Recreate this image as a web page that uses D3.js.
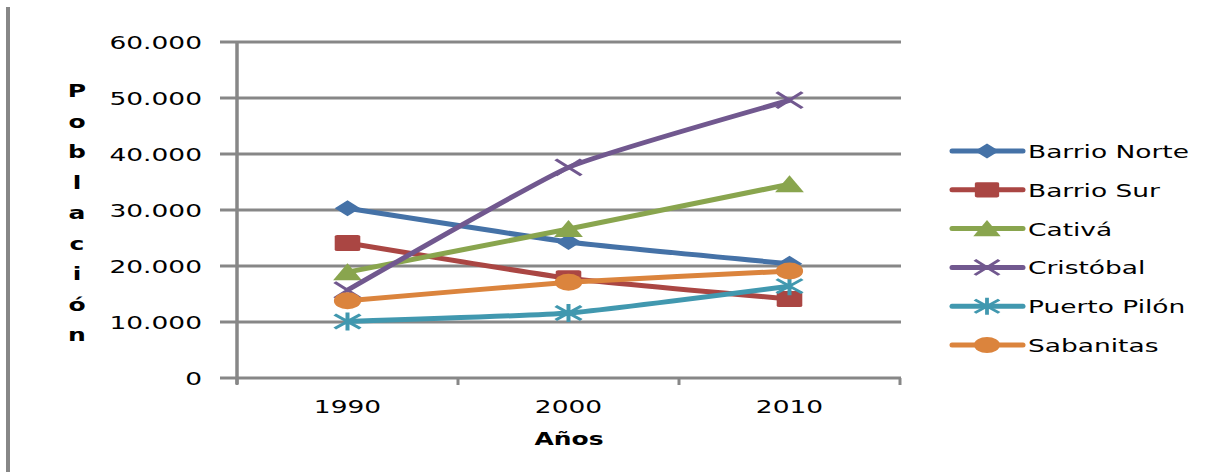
<!DOCTYPE html>
<html>
<head>
<meta charset="utf-8">
<script src="https://cdn.jsdelivr.net/npm/d3@7"></script>
<style>
  body { margin: 0; background: #fff; }
  text { font-family: "DejaVu Sans", sans-serif; fill: #000; }
</style>
</head>
<body>
<svg id="chart" width="1231" height="472"></svg>
<script>
// data
var years = ["1990", "2000", "2010"];
var seriesNames = ["Barrio Norte", "Barrio Sur", "Cativá", "Cristóbal", "Puerto Pilón", "Sabanitas"];
var barrioNorte = [30300, 24300, 20400];
var barrioSur = [24100, 17800, 14100];
var cativa = [18900, 26600, 34600];
var cristobal = [15700, 37600, 49600];
var puertoPilon = [10100, 11600, 16400];
var sabanitas = [13800, 17100, 19100];
var yTicks = [0, 10000, 20000, 30000, 40000, 50000, 60000];

var seriesValues = [barrioNorte, barrioSur, cativa, cristobal, puertoPilon, sabanitas];
var colors = ["#4572a7", "#aa4643", "#89a54e", "#71588f", "#4198af", "#db843d"];
var markers = ["diamond", "square", "triangle", "x", "star", "circle"];

var stretch = 1.47; // glyphs in the picture are wide
var gridColor = "#878787";

var svg = d3.select("#chart");

var x = d3.scaleBand().domain(years).range([237, 900]).padding(0);
var y = d3.scaleLinear().domain([0, 60000]).range([378, 42]);
var fmt = d3.formatLocale({decimal: ",", thousands: ".", grouping: [3], currency: ["", ""]}).format(",");

function cx(yr) { return x(yr) + x.bandwidth() / 2; }

// left border line
svg.append("line")
    .attr("x1", 8).attr("x2", 8).attr("y1", 7).attr("y2", 472)
    .attr("stroke", gridColor).attr("stroke-width", 4);

// gridlines + y labels
yTicks.forEach(function(t) {
    svg.append("line")
        .attr("x1", 220).attr("x2", 901)
        .attr("y1", y(t)).attr("y2", y(t))
        .attr("stroke", gridColor).attr("stroke-width", 3);
    svg.append("text")
        .attr("transform", "translate(202," + (y(t) + 7) + ") scale(" + stretch + ",1)")
        .attr("text-anchor", "end")
        .attr("font-size", 18)
        .text(fmt(t));
});

// y axis line
svg.append("line")
    .attr("x1", 237).attr("x2", 237).attr("y1", 42).attr("y2", 384)
    .attr("stroke", gridColor).attr("stroke-width", 3.5);

// x tick marks at band edges
var edges = years.map(function(d) { return x(d); }).concat([x.range()[1]]);
edges.forEach(function(e) {
    svg.append("line")
        .attr("x1", e).attr("x2", e).attr("y1", 378).attr("y2", 385)
        .attr("stroke", gridColor).attr("stroke-width", 3);
});

// x labels
years.forEach(function(yr) {
    svg.append("text")
        .attr("transform", "translate(" + cx(yr) + ",413) scale(" + stretch + ",1)")
        .attr("text-anchor", "middle")
        .attr("font-size", 18)
        .text(yr);
});

// axis titles
svg.append("text")
    .attr("transform", "translate(569,445) scale(" + stretch + ",1)")
    .attr("text-anchor", "middle")
    .attr("font-size", 17).attr("font-weight", "bold")
    .text("Años");

"Población".split("").forEach(function(ch, i) {
    svg.append("text")
        .attr("transform", "translate(77," + (97 + i * 30.5) + ") scale(" + stretch + ",1)")
        .attr("text-anchor", "middle")
        .attr("font-size", 17).attr("font-weight", "bold")
        .text(ch);
});

// marker drawing
function drawMarker(g, type, px, py, color, sc) {
    var m = g.append("g").attr("transform", "translate(" + px + "," + py + ") scale(" + (1.6 * sc) + "," + sc + ")");
    if (type === "diamond") {
        m.append("path").attr("d", "M0,-8L8,0L0,8L-8,0Z").attr("fill", color);
    } else if (type === "square") {
        m.append("rect").attr("x", -8).attr("y", -8).attr("width", 16).attr("height", 16).attr("rx", 1.5).attr("fill", color);
    } else if (type === "triangle") {
        m.append("path").attr("d", "M0,-9L9,8L-9,8Z").attr("fill", color);
    } else if (type === "circle") {
        m.append("circle").attr("r", 8.5).attr("fill", color);
    } else if (type === "x") {
        m.append("path").attr("d", "M-8,-8L8,8M-8,8L8,-8").attr("stroke", color).attr("stroke-width", 2.5).attr("fill", "none");
    } else if (type === "star") {
        m.append("path").attr("d", "M-8,-7L8,7M-8,7L8,-7M0,-9L0,9").attr("stroke", color).attr("stroke-width", 2.5).attr("fill", "none");
    }
}

// lines (excel-style light smoothing)
var line = d3.line()
    .x(function(d, i) { return cx(years[i]); })
    .y(function(d) { return y(d); })
    .curve(d3.curveCardinal.tension(0.6));

var plot = svg.append("g");
seriesValues.forEach(function(vals, s) {
    plot.append("path")
        .datum(vals)
        .attr("d", line)
        .attr("fill", "none")
        .attr("stroke", colors[s])
        .attr("stroke-width", 5)
        .attr("stroke-linejoin", "round")
        .attr("stroke-linecap", "round");
    vals.forEach(function(v, i) {
        drawMarker(plot, markers[s], cx(years[i]), y(v), colors[s], 1);
    });
});

// legend
var legend = svg.append("g");
seriesNames.forEach(function(name, s) {
    var ly = 151 + s * 38.8;
    legend.append("line")
        .attr("x1", 952).attr("x2", 1023).attr("y1", ly).attr("y2", ly)
        .attr("stroke", colors[s]).attr("stroke-width", 5).attr("stroke-linecap", "round");
    drawMarker(legend, markers[s], 987, ly, colors[s], 0.95);
    legend.append("text")
        .attr("transform", "translate(1028," + (ly + 7) + ") scale(" + stretch + ",1)")
        .attr("font-size", 18)
        .text(name);
});
</script>
</body>
</html>
